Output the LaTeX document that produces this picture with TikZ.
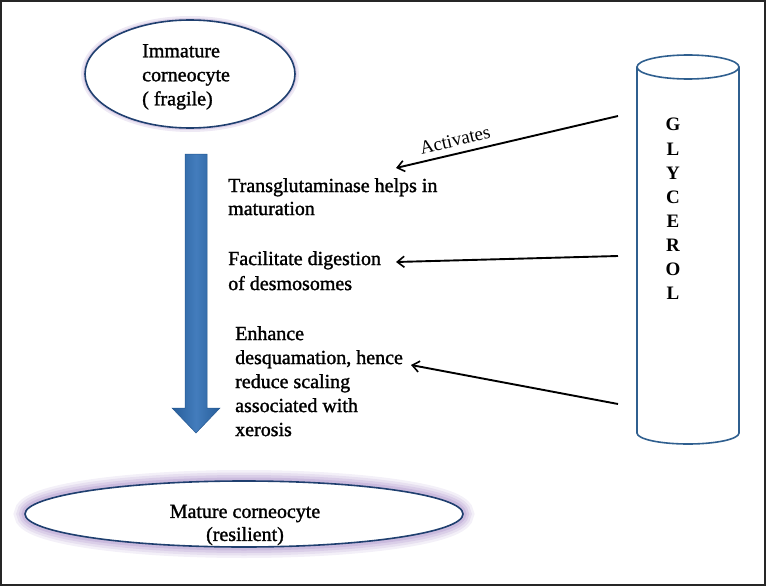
\documentclass[tikz,border=0pt]{standalone}
\usepackage{fontspec}
\setmainfont{Liberation Serif}
\newfontfamily\heavy{Liberation Serif}[FakeBold=1.4]
\usetikzlibrary{arrows.meta}
\definecolor{navy}{HTML}{1F3F6F}
\definecolor{cylblue}{HTML}{2F5F8F}
\definecolor{arrowblue}{HTML}{2E6EB5}
\definecolor{glow}{HTML}{8E6BB8}
\begin{document}
\begin{tikzpicture}[x=1pt,y=-1pt,
  txt/.style={inner sep=0pt,align=left,anchor=north west,font=\heavy\fontsize{20}{24}\selectfont},
  link/.style={-{Straight Barb[length=7pt,width=11pt,line width=1.6pt]},line width=1.9pt,black},
  outline/.style={draw=navy,line width=1.6pt}]
\useasboundingbox (0,0) rectangle (766,586);
\draw[line width=2pt,black!85] (1,1) rectangle (765,585);
% top ellipse
\draw[glow,opacity=0.15,line width=8pt] (190,74) ellipse [x radius=105,y radius=54];
\draw[glow,opacity=0.2,line width=4pt] (190,74) ellipse [x radius=105,y radius=54];
\draw[outline,fill=white] (190,74) ellipse [x radius=105,y radius=54];
\node[txt] (imm) at (142,44) {Immature\\corneocyte\\( fragile)};
% blue arrow
\path[left color=arrowblue!85!black,right color=arrowblue!85!black,middle color=arrowblue!90!white,draw=arrowblue!80!black,line width=0.5pt]
  (185,154) -- (207,154) -- (207,408) -- (220,408) -- (196,433) -- (172,408) -- (185,408) -- cycle;
% bottom ellipse
\foreach \w/\o in {22/0.10,17/0.12,12/0.15,7/0.2}{
  \draw[glow,opacity=\o,line width=\w pt] (244,514) ellipse [x radius=219,y radius=33];}
\draw[outline,fill=white] (244,514) ellipse [x radius=219,y radius=33];
\node[inner sep=0pt,align=center,font=\heavy\fontsize{20}{23}\selectfont] (mat) at (245,525) {Mature corneocyte\\(resilient)};
% texts
\node[txt,font=\heavy\fontsize{20}{23}\selectfont] (t1) at (228,178) {Transglutaminase helps in\\maturation};
\node[txt,font=\heavy\fontsize{20}{25}\selectfont] (t2) at (228,251) {Facilitate digestion\\of desmosomes};
\node[txt] (t3) at (235,326) {Enhance\\desquamation, hence\\reduce scaling\\associated with\\xerosis};
% cylinder
\draw[cylblue,line width=1.6pt,fill=white] (637,67) -- (637,433) arc[start angle=180,end angle=0,x radius=51,y radius=11] -- (739,67);
\draw[cylblue,line width=1.6pt] (688,67) ellipse [x radius=51,y radius=12];
\node[inner sep=0pt,align=center,font=\bfseries\fontsize{19}{24.1}\selectfont] (gly) at (673,209) {G\\L\\Y\\C\\E\\R\\O\\L};
% arrows
\coordinate (s1) at (618,116);
\coordinate (s2) at (618,256);
\coordinate (s3) at (618,404);
\coordinate (e1) at (396,168);
\coordinate (e2) at (396,262);
\coordinate (e3) at (411,365);
\draw[link] (s1) -- node[sloped,above=3pt,pos=0.72,font=\fontsize{19}{20}\selectfont] (act) {Activates} (e1);
\draw[link] (s2) -- (e2);
\draw[link] (s3) -- (e3);
\end{tikzpicture}
\end{document}
